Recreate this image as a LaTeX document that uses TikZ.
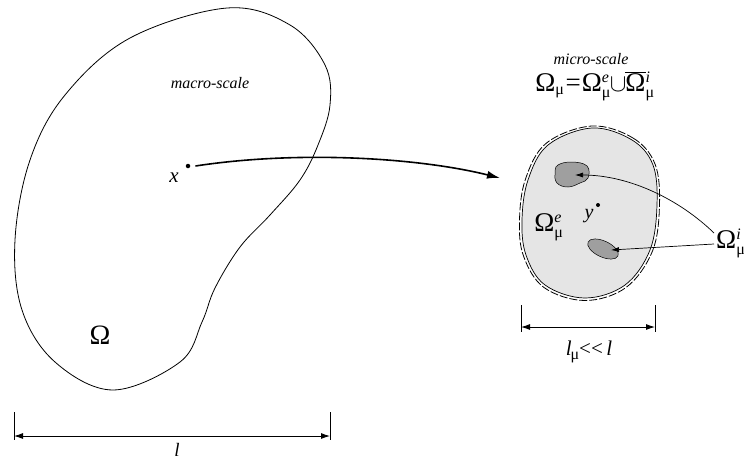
\documentclass[tikz,border=0pt]{standalone}
\usepackage{fontspec}
\setmainfont{Liberation Serif}
\usetikzlibrary{arrows.meta}
\newcommand{\sbs}[2]{$^{\mbox{\fontsize{16}{16}\selectfont\itshape #1}}_{\mbox{\fontsize{16}{16}\selectfont #2}}$}
\tikzset{
  outline/.style={line width=0.8pt, black},
  dimline/.style={line width=0.9pt, {Latex[length=9pt,width=6pt]}-{Latex[length=9pt,width=6pt]}},
  tickline/.style={line width=0.8pt},
  ptr/.style={line width=0.7pt, -{Latex[length=8pt,width=5pt]}},
  lbl/.style={inner sep=0pt, font=\fontsize{#1}{#1}\selectfont},
  dot/.style={circle, fill=black, inner sep=0pt, minimum size=4.5pt}
}
\begin{document}
\begin{tikzpicture}[x=1pt,y=-1pt]
\useasboundingbox (0,0) rectangle (744,461);
% macro domain
\draw[outline] plot[smooth cycle, tension=0.6] coordinates {
 (227,8) (290,25) (325,65) (330,105) (318,145) (300,180) (270,215) (240,247)
 (215,288) (202,322) (180,362) (113,390) (55,362) (22,310) (15,240) (30,160)
 (65,95) (130,38)};
\node[lbl=16] (macro) at (210,83) {\itshape macro-scale};
\node[lbl=28] (Om) at (100,335) {Ω};
\node[dot] (x) at (188,166) {};
\node[lbl=21] (xl) at (174,178) {\itshape x};
% micro domain
\fill[gray!20] plot[smooth cycle, tension=0.6] coordinates {
 (592,128) (632,140) (653,165) (657,205) (650,250) (625,285) (585,298)
 (545,285) (526,255) (522,220) (528,180) (548,145)};
\draw[line width=0.7pt] plot[smooth cycle, tension=0.6] coordinates {
 (592,128) (632,140) (653,165) (657,205) (650,250) (625,285) (585,298)
 (545,285) (526,255) (522,220) (528,180) (548,145)};
\draw[line width=0.8pt, dash pattern=on 8pt off 2pt] plot[smooth cycle, tension=0.6] coordinates {
 (592,126) (633,138) (655,164) (659.5,205) (652.5,251) (626,287.5) (585,300.5)
 (544,287.5) (523.5,256) (519.5,220) (525.5,179) (546.5,143)};
% inclusions
\filldraw[fill=gray!75, draw=black, line width=0.5pt] plot[smooth cycle, tension=0.7] coordinates {
 (558,165) (572,162) (587,166) (588,178) (580,183) (568,187) (557,183) (555,173)};
\filldraw[fill=gray!75, draw=black, line width=0.5pt] (603,249) ellipse[x radius=16.5pt, y radius=8pt, rotate=-25];
\coordinate (inc1) at (575,175);
\coordinate (inc2) at (611,250);
\node[dot, minimum size=4pt] (y) at (598,205) {};
\node[lbl=20] (yl) at (589,216) {\itshape y};
\node[lbl=27] (Ome) at (549,227) {Ω\sbs{e}{μ}};
\node[lbl=27, anchor=west] (Omi) at (716,243) {Ω\sbs{i}{μ}};
\node[lbl=16] (micro) at (591,59) {\itshape micro-scale};
\node[lbl=27] (eq) at (595,86) {Ω$_{\mbox{\fontsize{16}{16}\selectfont μ}}$\kern1pt=\kern1ptΩ\sbs{e}{μ}\kern-1pt$\cup$\kern-1pt$\overline{\mbox{Ω}}$\sbs{i}{μ}};
% pointers
\draw[ptr] (Omi.west) ++(-2,-10) .. controls (680,200) and (630,175) .. (inc1);
\draw[ptr] (Omi.west) ++(-2,1) -- (inc2);
% main arrow
\draw[line width=1.6pt, -{Latex[length=13pt,width=8pt]}] (x.east) ++(5,0) .. controls (300,150) and (420,158) .. (500,178);
% dimension macro
\coordinate (a1) at (14,412); \coordinate (a2) at (14,440);
\coordinate (b1) at (330,412); \coordinate (b2) at (330,440);
\draw[tickline] (a1) -- (a2); \draw[tickline] (b1) -- (b2);
\coordinate (da) at (14,436); \coordinate (db) at (330,436);
\draw[dimline] (da) -- (db);
\node[lbl=19] (ll) at (177,450) {\itshape l};
% dimension micro
\coordinate (c1) at (521,305); \coordinate (c2) at (521,332);
\coordinate (e1) at (655,305); \coordinate (e2) at (655,332);
\draw[tickline] (c1) -- (c2); \draw[tickline] (e1) -- (e2);
\coordinate (dc) at (521,327); \coordinate (de) at (655,327);
\draw[dimline] (dc) -- (de);
\node[lbl=21] (lmu) at (589,352) {\itshape l\/\kern-1pt\raisebox{-4pt}{\upshape\fontsize{16}{16}\selectfont μ}\upshape<\kern0pt<\,\itshape l};
\end{tikzpicture}
\end{document}
